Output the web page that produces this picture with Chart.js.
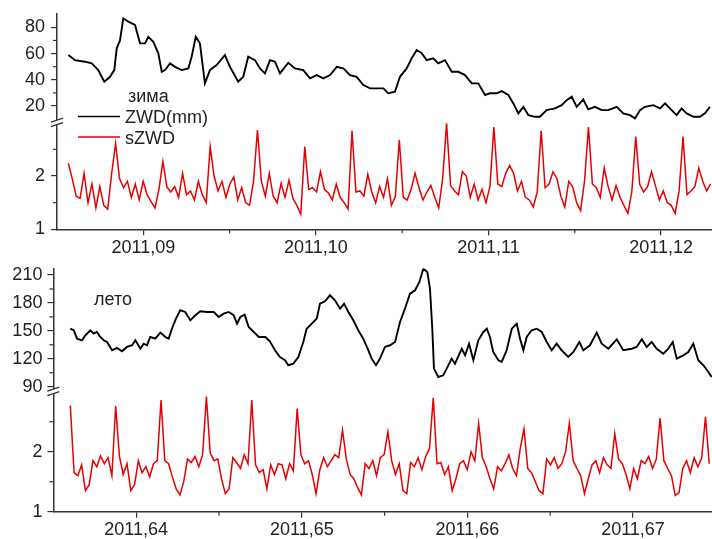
<!DOCTYPE html>
<html>
<head>
<meta charset="utf-8">
<script src="https://cdn.jsdelivr.net/npm/chart.js@4.4.0/dist/chart.umd.min.js"></script>
<style>
  body { margin: 0; background: #fff; }
  .panel { position: absolute; left: 0; width: 712px; }
  #top { top: 0; height: 258px; }
  #bot { top: 258px; height: 281px; }
</style>
</head>
<body>
<div class="panel" id="top"><canvas id="winter" width="712" height="258"></canvas></div>
<div class="panel" id="bot"><canvas id="summer" width="712" height="281"></canvas></div>
<script>
// x is in hundredths of a year after 2011 (9 -> "2011,09")
// winter, ZWD (mm)
const winterT = [
  8.566, 8.604, 8.662, 8.701, 8.739, 8.774, 8.807, 8.832, 8.846, 8.865,
  8.884, 8.913, 8.952, 8.981, 9.010, 9.029, 9.058, 9.087, 9.107, 9.126,
  9.155, 9.184, 9.222, 9.261, 9.280, 9.304, 9.328, 9.357, 9.386, 9.425,
  9.473, 9.502, 9.550, 9.579, 9.608, 9.647, 9.676, 9.705, 9.734, 9.763,
  9.792, 9.840, 9.879, 9.927, 9.966, 10.005, 10.043, 10.082, 10.121, 10.159,
  10.198, 10.236, 10.275, 10.314, 10.352, 10.391, 10.419, 10.458, 10.487, 10.526,
  10.555, 10.584, 10.613, 10.642, 10.680, 10.709, 10.748, 10.787, 10.825, 10.864,
  10.903, 10.941, 10.980, 11.009, 11.048, 11.077, 11.115, 11.144, 11.173, 11.202,
  11.231, 11.270, 11.298, 11.337, 11.385, 11.424, 11.453, 11.482, 11.511, 11.549,
  11.578, 11.617, 11.656, 11.694, 11.743, 11.781, 11.820, 11.849, 11.878, 11.907,
  11.955, 11.994, 12.023, 12.061, 12.090, 12.119, 12.148, 12.187, 12.225, 12.254,
  12.283
];
const winterZWD = [
  58.9, 55, 53.8, 52.5, 47.4, 38.5, 42.3, 47.4, 64, 70,
  86.9, 84.3, 81.8, 67.8, 67.8, 72.8, 69, 60.2, 46.1, 47.4,
  52.5, 49.9, 47.4, 48.7, 57.6, 72.8, 67.8, 37.3, 47.4, 51.2,
  58.9, 49.9, 38.5, 42.3, 57.6, 55, 48.7, 44.9, 55, 53.8,
  44.9, 53, 48.7, 47.4, 41.1, 43.6, 41.1, 43.6, 49.9, 48.7,
  43.6, 42.3, 36, 33.5, 33.5, 33.5, 29.7, 30.9, 42.3, 48.7,
  56.4, 62.7, 60.2, 55, 56.4, 52.5, 55, 46.1, 46.1, 43.6,
  37.3, 37.3, 28.4, 29.7, 29.7, 31.4, 28.4, 22, 14.4, 19.4,
  13.1, 11.8, 11.8, 16.9, 18.2, 20.7, 24.5, 27.1, 19.4, 25.1,
  17.5, 19.4, 16.9, 16.9, 19.4, 14.4, 13.1, 10.6, 16.9, 19.4,
  20.7, 18.2, 22, 16.9, 13.1, 18.2, 14.4, 11.8, 11.8, 14.4,
  19.4
];
// winter, sZWD, one value every 2 hours from winterS0
const winterS0 = 8.5655;
const winterS = [
  2.24, 1.95, 1.62, 1.58, 2.05, 1.5, 1.85, 1.4, 1.8, 1.45, 1.38, 2.05,
  2.61, 1.95, 1.78, 1.9, 1.6, 1.85, 1.55, 1.9, 1.65, 1.52, 1.4, 1.75,
  2.27, 1.8, 1.7, 1.8, 1.6, 2.05, 1.65, 1.72, 1.55, 1.9, 1.65, 1.5,
  2.55, 2.0, 1.72, 1.9, 1.6, 1.85, 1.98, 1.55, 1.78, 1.5, 1.45, 1.9,
  2.86, 1.9, 1.62, 2.05, 1.62, 1.5, 1.86, 1.6, 1.92, 1.58, 1.45, 1.28,
  2.55, 1.75, 1.78, 1.7, 2.08, 1.75, 1.68, 1.55, 1.85, 1.6, 1.5, 1.38,
  2.85, 1.7, 1.72, 1.62, 2.03, 1.7, 1.5, 1.8, 1.6, 1.95, 1.45, 1.62,
  2.68, 1.6, 1.55, 1.75, 2.05, 1.78, 1.55, 1.7, 1.82, 1.6, 1.4, 1.95,
  2.99, 1.82, 1.72, 1.65, 2.08, 2.0, 1.6, 1.85, 1.55, 1.75, 1.5, 1.8,
  2.92, 1.85, 1.8, 2.05, 2.2, 2.05, 1.72, 1.9, 1.6, 1.55, 1.42, 1.7,
  2.85, 1.78, 1.85, 2.08, 1.95, 1.62, 1.42, 1.9, 1.8, 1.5, 1.35, 1.9,
  2.92, 1.85, 1.78, 1.6, 2.15, 1.8, 1.55, 1.82, 1.6, 1.45, 1.3, 1.7,
  2.74, 1.85, 1.7, 1.8, 2.08, 1.82, 1.55, 1.72, 1.5, 1.45, 1.3, 1.72,
  2.74, 1.65, 1.72, 1.8, 2.15, 1.9, 1.72, 1.85
];

// summer, ZWD (mm)
const summerT = [
  63.602, 63.623, 63.643, 63.673, 63.693, 63.723, 63.743, 63.763, 63.783, 63.804,
  63.824, 63.854, 63.884, 63.914, 63.944, 63.975, 63.995, 64.025, 64.045, 64.065,
  64.085, 64.115, 64.146, 64.176, 64.196, 64.216, 64.240, 64.266, 64.296, 64.327,
  64.357, 64.387, 64.428, 64.468, 64.498, 64.528, 64.559, 64.589, 64.609, 64.629,
  64.655, 64.679, 64.710, 64.740, 64.780, 64.808, 64.838, 64.868, 64.899, 64.918,
  64.949, 64.979, 65.009, 65.029, 65.060, 65.090, 65.110, 65.140, 65.170, 65.200,
  65.231, 65.255, 65.281, 65.311, 65.341, 65.371, 65.402, 65.422, 65.448, 65.472,
  65.502, 65.533, 65.563, 65.593, 65.623, 65.653, 65.684, 65.710, 65.734, 65.758,
  65.774, 65.788, 65.798, 65.824, 65.854, 65.875, 65.905, 65.925, 65.966, 65.986,
  66.010, 66.036, 66.066, 66.096, 66.117, 66.136, 66.156, 66.187, 66.207, 66.237,
  66.268, 66.298, 66.318, 66.338, 66.358, 66.388, 66.419, 66.449, 66.479, 66.509,
  66.539, 66.569, 66.609, 66.640, 66.676, 66.700, 66.740, 66.781, 66.811, 66.851,
  66.902, 66.941, 66.992, 67.022, 67.053, 67.083, 67.113, 67.143, 67.183, 67.213,
  67.240, 67.264, 67.304, 67.334, 67.364, 67.394, 67.425, 67.455, 67.475
];
const summerZWD = [
  152.3, 150.6, 141.6, 139.8, 145.2, 150.6, 147, 148.8, 143.4, 139.8,
  138, 129.1, 131.6, 128, 132.7, 134.5, 139.8, 130.8, 136.2, 134.5,
  143.4, 141.6, 148.1, 143.4, 141.6, 152.3, 163.1, 172.1, 170.3, 161.3,
  166.7, 171, 170.3, 170.3, 164.9, 168.4, 170.3, 166.7, 157.7, 164.9,
  167.4, 154.1, 148.8, 143.4, 143.4, 138.5, 129.1, 121.9, 118.4, 113,
  114.7, 121.9, 138, 152.3, 157.7, 163.1, 179.2, 181.7, 188.2, 182.8,
  173.8, 179.2, 170.3, 161.3, 150.6, 141.6, 129.1, 120.1, 113, 120.1,
  132.7, 134.5, 138, 159.5, 173.8, 189.9, 193.6, 202.5, 216.8, 213.2,
  195.3, 152.3, 109.4, 100.4, 102.2, 109.4, 120.1, 114.7, 130.8, 123.7,
  136.2, 118.4, 139.8, 148.8, 152.3, 143.4, 127.3, 118.4, 116.6, 129.1,
  152.3, 157.7, 141.6, 129.1, 143.4, 150.6, 152.3, 148.8, 138, 129.1,
  136.2, 129.1, 121.9, 127.3, 138, 129.1, 134.5, 148.1, 136.2, 130.8,
  140.9, 129.1, 130.8, 132.7, 140.9, 132.7, 138, 130.8, 125.5, 130.8,
  138, 120.1, 123.7, 127.3, 136.2, 118.4, 113, 105.8, 100.4
];
// summer, sZWD, one value every 2 hours from summerS0
const summerS0 = 63.602;
const summerS = [
  2.77, 1.65, 1.6, 1.78, 1.35, 1.45, 1.85, 1.75, 1.93, 1.8, 1.9, 1.6,
  2.76, 1.92, 1.62, 1.8, 1.35, 1.45, 1.85, 1.65, 1.75, 1.58, 1.8, 1.85,
  2.86, 1.85, 1.8, 1.58, 1.38, 1.28, 1.5, 1.88, 1.82, 1.92, 1.75, 1.95,
  2.92, 1.98, 1.85, 1.88, 1.55, 1.3, 1.38, 1.9, 1.82, 1.72, 1.95, 1.8,
  2.86, 1.78, 1.65, 1.7, 1.38, 1.78, 1.62, 1.8, 1.78, 1.55, 1.8, 1.68,
  2.72, 1.95, 1.8, 1.85, 1.62, 1.3, 1.7, 1.9, 1.75, 1.85, 1.95, 1.9,
  2.36, 1.88, 1.62, 1.55, 1.4, 1.28, 1.8, 1.72, 1.85, 1.6, 1.9, 1.95,
  2.33, 1.85, 1.62, 1.8, 1.35, 1.3, 1.82, 1.75, 1.9, 1.7, 1.92, 2.05,
  2.90, 1.8, 1.82, 1.62, 1.75, 1.35, 1.55, 1.8, 1.85, 1.7, 2.0, 1.85,
  2.47, 1.9, 1.75, 1.55, 1.38, 1.75, 1.68, 1.8, 1.95, 1.72, 1.6, 2.05,
  2.38, 1.72, 1.65, 1.5, 1.35, 1.3, 1.88, 1.78, 1.9, 1.72, 1.8, 2.0,
  2.47, 1.85, 1.72, 1.6, 1.3, 1.55, 1.78, 1.85, 1.65, 1.9, 1.78, 1.72,
  2.30, 1.88, 1.8, 1.62, 1.38, 1.72, 1.55, 1.85, 1.8, 1.92, 1.72, 1.88,
  2.56, 1.85, 1.72, 1.6, 1.27, 1.32, 1.72, 1.85, 1.65, 1.9, 1.75, 1.9,
  2.58, 1.8
];

const winterTicksX = [9, 10, 11, 12];
const summerTicksX = [64, 65, 66, 67];
const winterTicksZWD = [20, 40, 60, 80];
const summerTicksZWD = [90, 120, 150, 180, 210];
const ticksS = [1, 2];

const STEP = 2 / 8760 * 100; // 2 hours
const AXIS = '#333';
const TXT = '#222';
const RED = 'rgb(230,0,0)';
const FONT = "'Liberation Sans', Arial, sans-serif";

Chart.defaults.font.family = FONT;
Chart.defaults.font.size = 18;
Chart.defaults.color = TXT;

const pairs = (t, v) => v.map((y, i) => ({ x: t[i], y }));
const steps = (t0, v) => v.map((y, i) => ({ x: t0 + i * STEP, y }));

// minor ticks, axis break and the in-plot labels
const extras = {
  id: 'extras',
  afterDraw(chart) {
    const o = chart.options.plugins.extras;
    const ctx = chart.ctx;
    const sx = chart.scales.x;
    const line = (x1, y1, x2, y2) => { ctx.beginPath(); ctx.moveTo(x1, y1); ctx.lineTo(x2, y2); ctx.stroke(); };
    ctx.save();
    ctx.strokeStyle = AXIS;
    ctx.lineWidth = 1.2;
    o.minorX.forEach(v => { const p = sx.getPixelForValue(v); line(p, sx.top, p, sx.top + 4); });
    ['yB', 'yR'].forEach(id => {
      const s = chart.scales[id];
      o[id].forEach(v => { const p = s.getPixelForValue(v); line(s.right - 4, p, s.right, p); });
    });
    // break on the y axis
    const ax = chart.scales.yB.right;
    const yb = chart.scales.yB.bottom;
    ctx.fillStyle = '#fff';
    ctx.fillRect(ax - 2, yb - 2.5, 4, 5);
    ctx.lineWidth = 1.3;
    line(ax - 6, yb - 0.5, ax + 6, yb - 4.5);
    line(ax - 6, yb + 4, ax + 6, yb);
    // labels
    ctx.fillStyle = TXT;
    ctx.font = '18px ' + FONT;
    ctx.textBaseline = 'alphabetic';
    o.texts.forEach(t => ctx.fillText(t.text, t.x, t.y));
    o.keys.forEach(k => {
      ctx.strokeStyle = k.color;
      ctx.lineWidth = k.width;
      line(k.x, k.y, k.x + 42, k.y);
    });
    ctx.restore();
  }
};

function makePanel(id, p) {
  const yAxis = (min, max, ticks, weight) => ({
    type: 'linear',
    position: 'left',
    stack: 'panel',
    stackWeight: weight,
    min, max,
    afterBuildTicks: s => { s.ticks = ticks.map(v => ({ value: v })); },
    afterFit: s => { s.width = p.axisX; s.paddingTop = 0; s.paddingBottom = 0; },
    grid: { drawOnChartArea: false, tickLength: 6, color: AXIS, lineWidth: 1.2 },
    border: { color: AXIS, width: 1.5 },
    ticks: { padding: p.yPad, color: TXT, autoSkip: false }
  });
  new Chart(document.getElementById(id), {
    type: 'line',
    data: {
      datasets: [
        { label: 'ZWD(mm)', data: pairs(p.t, p.zwd), yAxisID: 'yB', borderColor: '#000',
          borderWidth: 1.9, pointRadius: 0, tension: 0 },
        { label: 'sZWD', data: steps(p.s0, p.s), yAxisID: 'yR', borderColor: RED,
          borderWidth: 1.5, pointRadius: 0, tension: 0 }
      ]
    },
    options: {
      responsive: false,
      animation: false,
      events: [],
      layout: { padding: { top: p.padTop, left: 0, right: 0, bottom: 0 } },
      scales: {
        x: {
          type: 'linear',
          min: p.xMin, max: p.xMax,
          afterBuildTicks: s => { s.ticks = p.ticksX.map(v => ({ value: v })); },
          afterFit: s => { s.height = p.xAxisH; s.paddingLeft = 0; s.paddingRight = 0; },
          grid: { drawOnChartArea: false, tickLength: 6, color: AXIS, lineWidth: 1.2 },
          border: { color: AXIS, width: 1.5 },
          ticks: { padding: 2, maxRotation: 0, autoSkip: false, color: TXT,
                   callback: v => '2011,' + String(v).padStart(2, '0') }
        },
        yR: yAxis(1, 3, ticksS, p.wR),
        yB: yAxis(p.bMin, p.bMax, p.ticksB, p.wB)
      },
      plugins: {
        legend: { display: false },
        tooltip: { enabled: false },
        extras: { minorX: p.minorX, yB: p.minorB, yR: [1.5, 2.5], texts: p.texts, keys: p.keys }
      }
    },
    plugins: [extras]
  });
}

makePanel('winter', {
  t: winterT, zwd: winterZWD, s0: winterS0, s: winterS,
  xMin: 8.5, xMax: 12.295, ticksX: winterTicksX, minorX: [9.5, 10.5, 11.5],
  bMin: 7.3, bMax: 90.7, ticksB: winterTicksZWD, minorB: [30, 50, 70],
  wB: 109.4, wR: 106.6,
  axisX: 57, yPad: 6, padTop: 13.3, xAxisH: 28.7,
  texts: [
    { text: 'зима', x: 128, y: 102 },
    { text: 'ZWD(mm)', x: 125, y: 123 },
    { text: 'sZWD', x: 125, y: 144 }
  ],
  keys: [
    { x: 78, y: 116.5, color: '#000', width: 1.6 },
    { x: 78, y: 137, color: RED, width: 1.6 }
  ]
});

makePanel('summer', {
  t: summerT, zwd: summerZWD, s0: summerS0, s: summerS,
  xMin: 63.5, xMax: 67.477, ticksX: summerTicksX, minorX: [64.5, 65.5, 66.5],
  bMin: 84.6, bMax: 217.2, ticksB: summerTicksZWD, minorB: [105, 135, 165, 195],
  wB: 123.4, wR: 120,
  axisX: 53.4, yPad: 5, padTop: 10.3, xAxisH: 27.3,
  texts: [{ text: 'лето', x: 94, y: 47 }],
  keys: []
});
</script>
</body>
</html>
